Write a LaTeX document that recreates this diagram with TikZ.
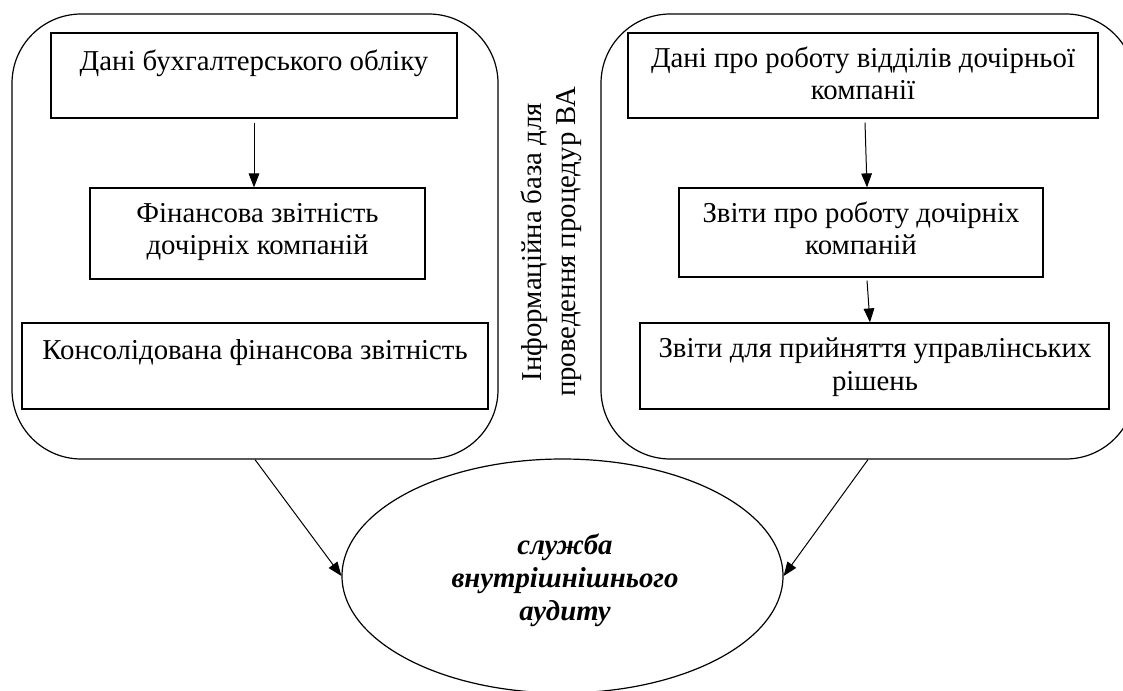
\documentclass[tikz,border=0pt]{standalone}
\usepackage{fontspec}
\setmainfont{Liberation Serif}
\newfontfamily\tnr{Liberation Serif}
\usetikzlibrary{arrows.meta,shapes.geometric,fit}
\begin{document}
\begin{tikzpicture}[x=0.75pt,y=-0.75pt,
  frame/.style={draw, rounded corners=52pt, line width=0.9pt, inner sep=0pt},
  box/.style={draw, line width=0.9pt, inner sep=0pt},
  txt/.style={font=\tnr\fontsize{21.6}{24.4}\selectfont, align=center, inner sep=0pt},
  vtxt/.style={font=\tnr\fontsize{21.6}{25.5}\selectfont, align=center, inner sep=0pt, rotate=90},
  etxt/.style={font=\tnr\fontsize{21.6}{24.4}\selectfont\bfseries\itshape, align=center, inner sep=0pt},
  arr/.style={-{Triangle[length=10.5pt,width=8pt]}, line width=0.75pt}]
\useasboundingbox (0,0) rectangle (1123,691);
% frames
\node[frame, fit={(12,14) (498,459)}] (lf) {};
\node[frame, fit={(601,14) (1135,459)}] (rf) {};
% left boxes
\node[box, fit={(51,33) (457,118)}] (b1) {};
\node[box, fit={(90,188) (425,279)}] (b2) {};
\node[box, fit={(22,323) (488,409)}] (b3) {};
% right boxes
\node[box, fit={(628,33) (1098,118)}] (r1) {};
\node[box, fit={(679,188) (1043,277)}] (r2) {};
\node[box, fit={(640,323) (1109,409)}] (r3) {};
% texts (base = baseline of last line)
\node[txt, anchor=base] (t1) at (254,71) {Дані бухгалтерського обліку};
\node[txt, anchor=base] (t2) at (257.5,255) {Фінансова звітність\\дочірніх компаній};
\node[txt, anchor=base] (t3) at (255,359) {Консолідована фінансова звітність};
\node[txt, anchor=base] (t4) at (863,100) {Дані про роботу відділів дочірньої\\компанії};
\node[txt, anchor=base] (t5) at (861,255) {Звіти про роботу дочірніх\\компаній};
\node[txt, anchor=base] (t6) at (875,390) {Звіти для прийняття управлінських\\рішень};
\node[vtxt] (vt) at (551,242) {Інформаційна база для\\проведення процедур ВА};
% ellipse
\node[draw, ellipse, line width=0.9pt, minimum width=330.75pt, minimum height=175.5pt, inner sep=0pt] (e) at (562.5,576) {};
\node[etxt, anchor=base] (et) at (565,620) {служба\\внутрішнішнього\\аудиту};
% arrows
\draw[arr] ([yshift=-3pt]b1.south) -- (b1.south |- b2.north);
\draw[arr] ([xshift=1.5pt,yshift=-3pt]r1.south) -- ([xshift=4.5pt]r2.north);
\draw[arr] ([xshift=4.5pt,yshift=-2.25pt]r2.south) -- ([xshift=-3.4pt]r3.north);
\draw[arr] (lf.south) -- (e.west);
\draw[arr] (rf.south) -- (e.east);
\end{tikzpicture}
\end{document}
